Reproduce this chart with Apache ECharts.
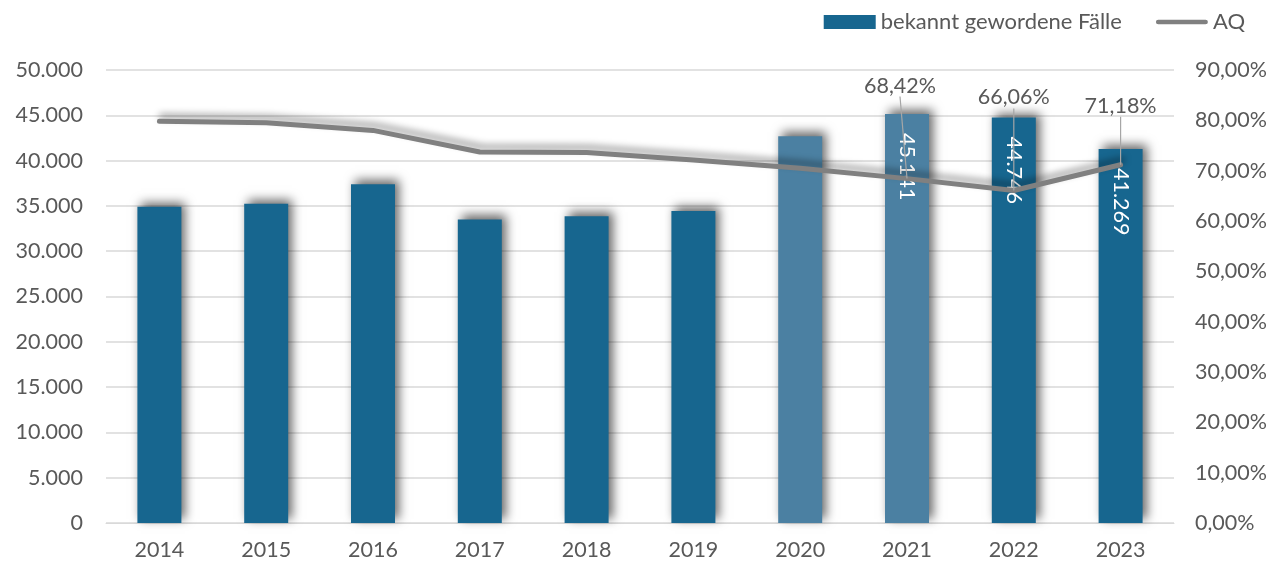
<!DOCTYPE html>
<html>
<head>
<meta charset="utf-8">
<script src="https://cdn.jsdelivr.net/npm/echarts@6/dist/echarts.min.js"></script>
<style>
  html, body { margin: 0; padding: 0; background: #fff; }
  #chart { width: 1271px; height: 565px; }
</style>
</head>
<body>
<div id="chart"></div>
<script>
// Daten
const years = ['2014', '2015', '2016', '2017', '2018', '2019', '2020', '2021', '2022', '2023']
const faelle = [34900, 35250, 37400, 33500, 33850, 34450, 42700, 45141, 44746, 41269]
const aq = [79.8, 79.5, 78.0, 73.7, 73.6, 72.1, 70.5, 68.42, 66.06, 71.18]
const labeledYears = ['2021', '2022', '2023']
const lightYears = ['2020', '2021']

const fmtThousand = v => String(Math.round(v)).replace(/\B(?=(\d{3})+(?!\d))/g, '.')
const fmtPct = v => v.toFixed(2).replace('.', ',') + '%'

const font = 'Lato, "Open Sans", sans-serif'
const grey = '#595959'
const fs = 21.5

const barData = faelle.map((v, i) => ({
  value: v,
  itemStyle: lightYears.includes(years[i]) ? { color: '#4b80a2' } : undefined,
  label: { show: labeledYears.includes(years[i]) }
}))

const lineData = aq.map((v, i) => ({
  value: v,
  label: { show: labeledYears.includes(years[i]) }
}))

// Verschiebung der Prozent-Labels (wie im Original)
const labelShift = { 7: [-7, -77], 8: [0, -77], 9: [0, -43] }

const chart = echarts.init(document.getElementById('chart'))
chart.setOption({
  animation: false,
  textStyle: { fontFamily: font },
  legend: {
    right: 21,
    top: 6,
    itemGap: 34,
    itemWidth: 52,
    itemHeight: 14,
    symbolKeepAspect: true,
    textStyle: { color: grey, fontSize: 22, fontFamily: font },
    data: [
      { name: 'bekannt gewordene Fälle', icon: 'rect' },
      { name: 'AQ', icon: 'path://M2.5,0 L52.5,0 A2.5,2.5 0 0 1 52.5,5 L2.5,5 A2.5,2.5 0 0 1 2.5,0 Z' }
    ]
  },
  grid: { left: 106, right: 97, top: 70, bottom: 42 },
  xAxis: {
    type: 'category',
    data: years,
    axisLine: { lineStyle: { color: '#d9d9d9', width: 1 } },
    axisTick: { show: false },
    axisLabel: { color: grey, fontSize: fs, margin: 16 }
  },
  yAxis: [
    {
      type: 'value',
      min: 0,
      max: 50000,
      interval: 5000,
      axisLabel: { color: grey, fontSize: fs, margin: 23, formatter: fmtThousand },
      splitLine: { lineStyle: { color: '#d9d9d9', width: 1.5 } },
      axisLine: { show: false },
      axisTick: { show: false }
    },
    {
      type: 'value',
      min: 0,
      max: 90,
      interval: 10,
      axisLabel: { color: grey, fontSize: fs, margin: 21, formatter: fmtPct },
      splitLine: { show: false },
      axisLine: { show: false },
      axisTick: { show: false }
    }
  ],
  series: [
    {
      name: 'bekannt gewordene Fälle',
      type: 'bar',
      data: barData,
      barWidth: 44,
      itemStyle: {
        color: '#17668f',
        shadowColor: 'rgba(0,0,0,0.6)',
        shadowBlur: 10,
        shadowOffsetX: 4,
        shadowOffsetY: -4
      },
      label: {
        position: 'insideTop',
        distance: 19,
        rotate: -90,
        align: 'left',
        verticalAlign: 'middle',
        color: '#ffffff',
        fontSize: fs,
        fontFamily: font,
        formatter: p => fmtThousand(p.value)
      }
    },
    {
      name: 'AQ',
      type: 'line',
      yAxisIndex: 1,
      data: lineData,
      symbol: 'circle',
      symbolSize: 0.1,
      showSymbol: true,
      itemStyle: { color: '#808080' },
      lineStyle: {
        color: '#808080',
        width: 5,
        cap: 'round',
        join: 'round',
        shadowColor: 'rgba(0,0,0,0.4)',
        shadowBlur: 7,
        shadowOffsetX: 2,
        shadowOffsetY: -5
      },
      label: {
        position: 'top',
        distance: 5,
        color: grey,
        fontSize: fs,
        fontFamily: font,
        formatter: p => fmtPct(p.value)
      },
      labelLine: {
        show: true,
        lineStyle: { color: '#a6a6a6', width: 1.2 }
      },
      labelLayout: p => {
        const s = labelShift[p.dataIndex]
        return s ? { dx: s[0], dy: s[1] } : {}
      },
      z: 5
    }
  ]
})
</script>
</body>
</html>
